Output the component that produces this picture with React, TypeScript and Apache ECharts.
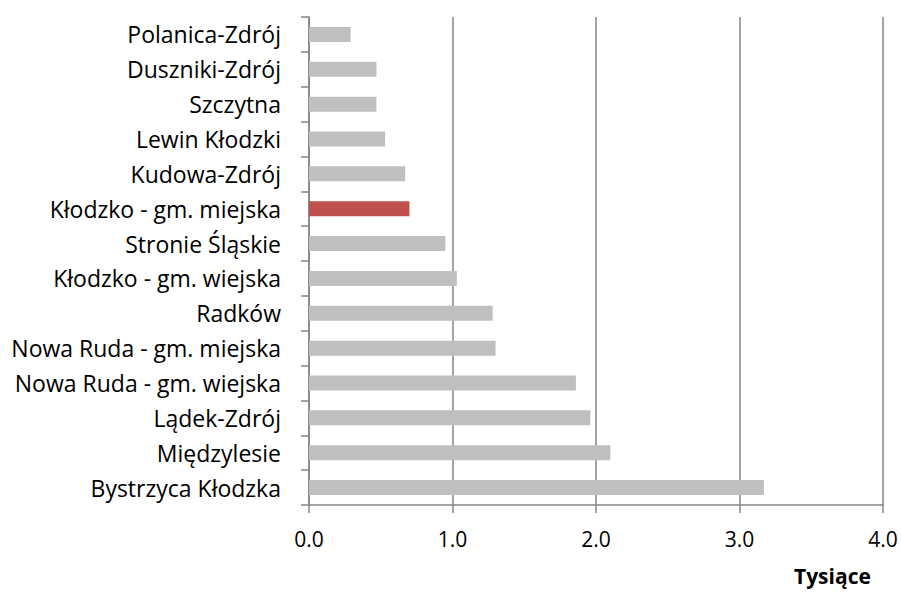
import React, { useEffect, useRef } from "react";
import * as echarts from "echarts";

const categories = [
  "Bystrzyca Kłodzka",
  "Międzylesie",
  "Lądek-Zdrój",
  "Nowa Ruda - gm. wiejska",
  "Nowa Ruda - gm. miejska",
  "Radków",
  "Kłodzko - gm. wiejska",
  "Stronie Śląskie",
  "Kłodzko - gm. miejska",
  "Kudowa-Zdrój",
  "Lewin Kłodzki",
  "Szczytna",
  "Duszniki-Zdrój",
  "Polanica-Zdrój",
];
const values = [3.17, 2.1, 1.96, 1.86, 1.3, 1.28, 1.03, 0.95, 0.7, 0.67, 0.53, 0.47, 0.47, 0.29];
const highlighted = "Kłodzko - gm. miejska";
const unitLabel = "Tysiące";

const FONT = "'Open Sans', Lato, sans-serif";

export default function App() {
  const ref = useRef<HTMLDivElement>(null);
  useEffect(() => {
    if (!ref.current) return;
    const chart = echarts.init(ref.current, null, { renderer: "svg" });
    chart.setOption({
      animation: false,
      grid: { left: 309, right: 18, top: 17, bottom: 87, containLabel: false },
      xAxis: {
        type: "value",
        min: 0,
        max: 4,
        interval: 1,
        axisLine: { show: true, lineStyle: { color: "#868686", width: 1.5 } },
        axisTick: { show: true, length: 8, lineStyle: { color: "#868686", width: 1.5 } },
        axisLabel: {
          margin: 23,
          color: "#000",
          fontFamily: FONT,
          fontSize: 21,
          formatter: (v: number) => v.toFixed(1),
        },
        splitLine: { show: true, lineStyle: { color: "#868686", width: 1.5 } },
      },
      yAxis: {
        type: "category",
        data: categories,
        axisLine: { show: true, lineStyle: { color: "#868686", width: 1.5 } },
        axisTick: { show: true, length: 8, lineStyle: { color: "#868686", width: 1.5 } },
        axisLabel: { margin: 28, color: "#000", fontFamily: FONT, fontSize: 23 },
        splitLine: { show: false },
      },
      series: [
        {
          type: "bar",
          data: values.map((v, i) => ({
            value: v,
            itemStyle: { color: categories[i] === highlighted ? "#C0504D" : "#BFBFBF" },
          })),
          barWidth: 15,
        },
      ],
      graphic: [
        {
          type: "text",
          left: 794,
          top: 565,
          style: {
            text: unitLabel,
            font: `bold 21px ${FONT}`,
            fill: "#000",
          },
        },
      ],
    });
    return () => chart.dispose();
  }, []);
  return <div ref={ref} style={{ width: 901, height: 592, position: "absolute", left: 0, top: 0 }} />;
}
